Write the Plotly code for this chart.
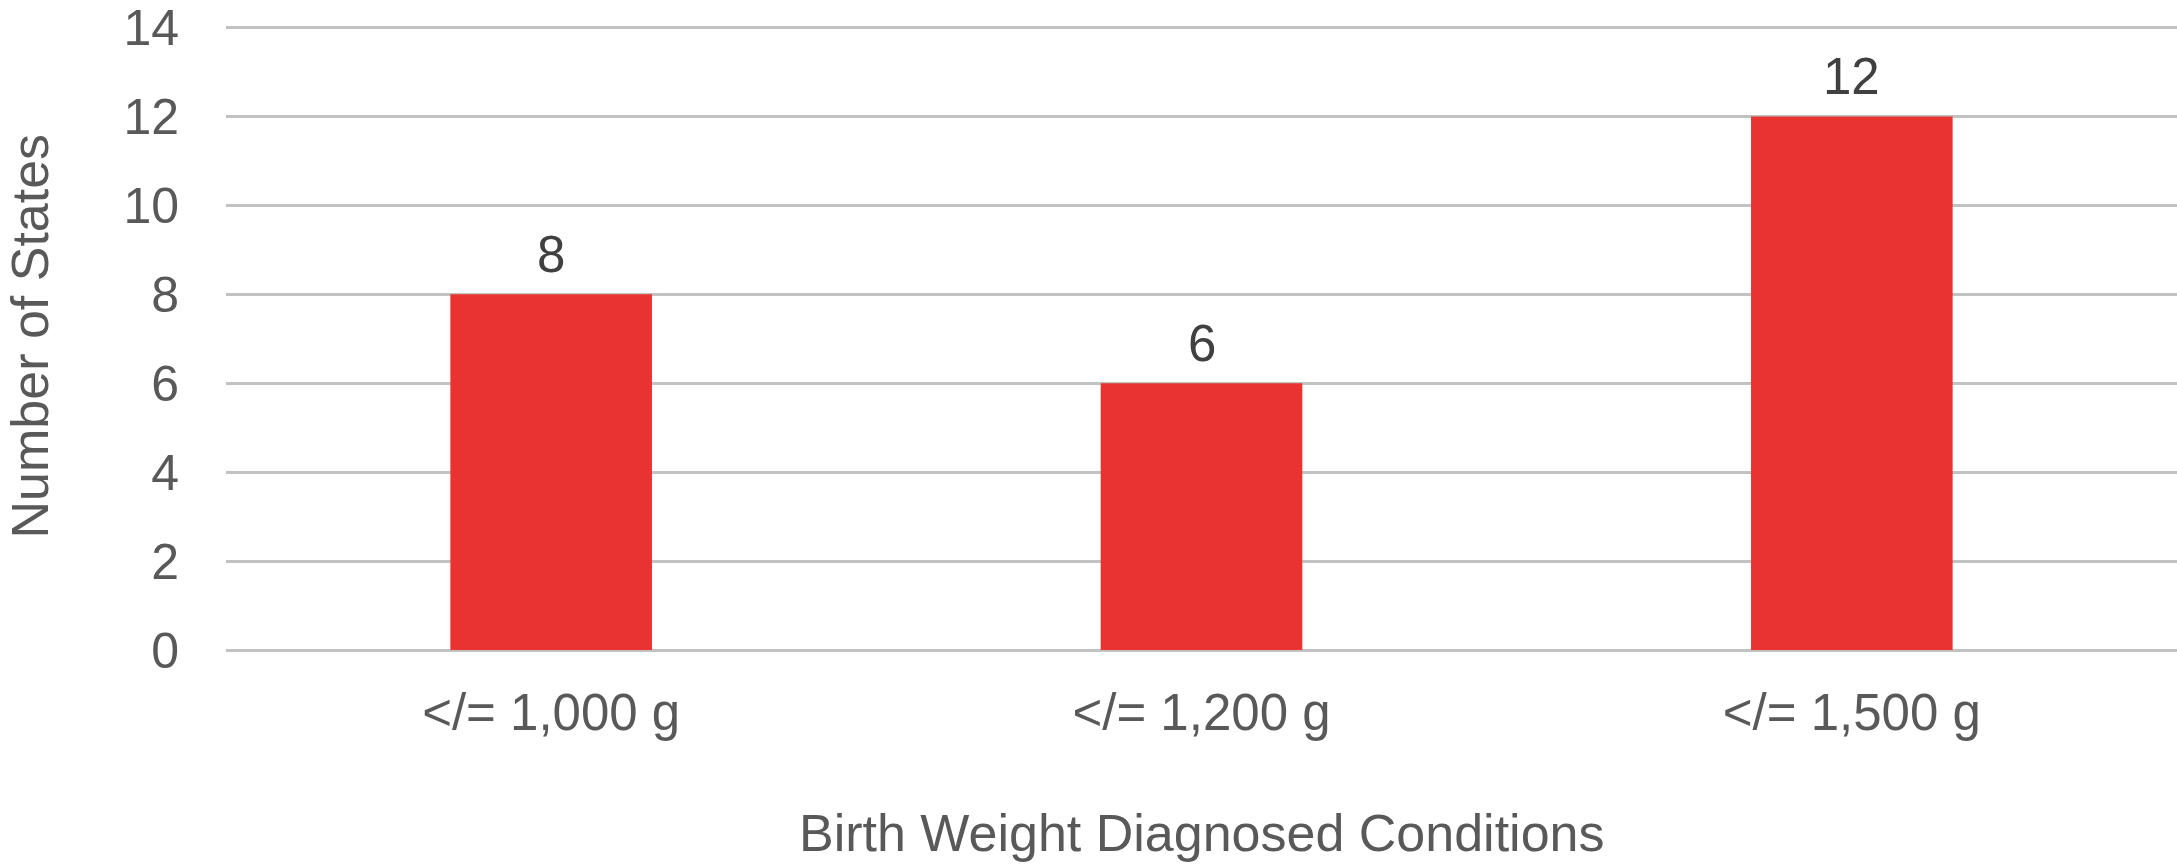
import plotly.graph_objects as go

# Number of states using each birth-weight cutoff
categories = ["</= 1,000 g", "</= 1,200 g", "</= 1,500 g"]
states = [8, 6, 12]
y_ticks = [0, 2, 4, 6, 8, 10, 12, 14]

FONT = "Liberation Sans, Arial, Helvetica, sans-serif"
LABEL_GREY = "#595959"
BAR_RED = "#e83331"
GRID_GREY = "#c2c2c2"

fig = go.Figure(
    go.Bar(
        x=categories,
        y=states,
        width=0.31,
        marker=dict(color=BAR_RED, line=dict(width=0)),
        hoverinfo="x+y",
    )
)

# value labels above each bar
for cat, val in zip(categories, states):
    fig.add_annotation(
        x=cat, y=val, text=str(val), showarrow=False,
        xref="x", yref="y", yanchor="bottom", yshift=9,
        font=dict(family=FONT, size=51, color="#404040"),
    )

# axis titles
fig.add_annotation(
    text="Number of States", textangle=-90, showarrow=False,
    xref="paper", yref="paper", x=0, y=0.5,
    xanchor="center", yanchor="middle", xshift=-197,
    font=dict(family=FONT, size=52, color=LABEL_GREY),
)
fig.add_annotation(
    text="Birth Weight Diagnosed Conditions", showarrow=False,
    xref="paper", yref="paper", x=0.5, y=0,
    xanchor="center", yanchor="middle", yshift=-183, borderpad=0,
    font=dict(family=FONT, size=52, color=LABEL_GREY),
)

fig.update_layout(
    width=2177,
    height=864,
    margin=dict(l=226, r=0, t=23, b=214),
    paper_bgcolor="white",
    plot_bgcolor="white",
    showlegend=False,
    font=dict(family=FONT, color=LABEL_GREY),
)

fig.update_xaxes(
    type="category",
    range=[-0.5, 2.5],
    showgrid=False,
    showline=False,
    zeroline=False,
    ticks="",
    ticklabelstandoff=28,
    tickfont=dict(family=FONT, size=51, color=LABEL_GREY),
)

# the top of the range sits a little above 14 so its gridline is drawn
fig.update_yaxes(
    range=[0, 14.1],
    tickvals=y_ticks,
    ticktext=[str(v) for v in y_ticks],
    showgrid=True,
    gridcolor=GRID_GREY,
    gridwidth=2.5,
    zeroline=True,
    zerolinecolor=GRID_GREY,
    zerolinewidth=2.5,
    showline=False,
    ticks="",
    ticklabelstandoff=46,
    ticklabeloverflow="allow",
    tickfont=dict(family=FONT, size=50, color=LABEL_GREY),
)

fig.write_html("out.html")
